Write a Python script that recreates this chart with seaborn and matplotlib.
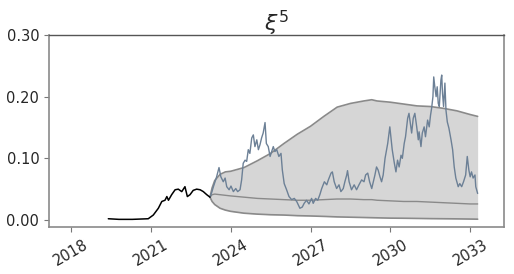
import numpy as np
import pandas as pd
import seaborn as sns
import matplotlib
matplotlib.use("Agg")
import matplotlib.pyplot as plt

# observed history (black)
hist_years = [2019.40, 2019.8, 2020.3, 2020.90, 2021.09, 2021.28, 2021.41, 2021.53, 2021.60, 2021.66,
              2021.78, 2021.91, 2022.03, 2022.16, 2022.28, 2022.37, 2022.47, 2022.59, 2022.72,
              2022.85, 2022.97, 2023.10, 2023.22]
hist_vals = [0.002, 0.001, 0.001, 0.002, 0.008, 0.019, 0.030, 0.032, 0.038, 0.032,
             0.041, 0.049, 0.050, 0.046, 0.054, 0.038, 0.041, 0.048, 0.050,
             0.049, 0.046, 0.041, 0.037]

# one simulated path (slate blue)
path_years = [2023.22, 2023.26, 2023.35, 2023.47, 2023.56, 2023.63, 2023.72, 2023.79, 2023.85, 2023.94,
              2024.01, 2024.10, 2024.19, 2024.26, 2024.35, 2024.41, 2024.47, 2024.54, 2024.60, 2024.66,
              2024.72, 2024.79, 2024.85, 2024.91, 2024.98, 2025.04, 2025.10, 2025.16, 2025.22, 2025.29,
              2025.34, 2025.41, 2025.48, 2025.54, 2025.60, 2025.66, 2025.73, 2025.81, 2025.89, 2025.94,
              2026.01, 2026.10, 2026.19, 2026.29, 2026.39, 2026.48, 2026.60, 2026.69, 2026.76, 2026.85,
              2026.94, 2027.04, 2027.10, 2027.19, 2027.27, 2027.35, 2027.42, 2027.52, 2027.61, 2027.67,
              2027.77, 2027.82, 2027.89, 2027.98, 2028.07, 2028.14, 2028.23, 2028.29, 2028.36, 2028.39,
              2028.45, 2028.54, 2028.64, 2028.73, 2028.82, 2028.92, 2029.01, 2029.07, 2029.15, 2029.22,
              2029.30, 2029.36, 2029.42, 2029.48, 2029.54, 2029.61, 2029.67, 2029.73, 2029.80, 2029.90,
              2029.98, 2030.02, 2030.07, 2030.15, 2030.21, 2030.27, 2030.33, 2030.40, 2030.45, 2030.52,
              2030.57, 2030.65, 2030.70, 2030.75, 2030.80, 2030.86, 2030.92, 2030.99, 2031.05, 2031.08,
              2031.15, 2031.20, 2031.27, 2031.32, 2031.40, 2031.46, 2031.51, 2031.55, 2031.60, 2031.63,
              2031.67, 2031.72, 2031.76, 2031.80, 2031.84, 2031.90, 2031.93, 2031.96, 2032.00, 2032.05,
              2032.09, 2032.14, 2032.20, 2032.28, 2032.34, 2032.40, 2032.46, 2032.55, 2032.61, 2032.68,
              2032.75, 2032.83, 2032.89, 2032.95, 2033.00, 2033.05, 2033.11, 2033.18, 2033.21, 2033.28]
path_vals = [0.037, 0.041, 0.054, 0.070, 0.085, 0.070, 0.062, 0.068, 0.054, 0.049,
             0.055, 0.046, 0.051, 0.046, 0.049, 0.065, 0.092, 0.097, 0.095, 0.114,
             0.108, 0.133, 0.138, 0.119, 0.130, 0.114, 0.122, 0.133, 0.141, 0.158,
             0.124, 0.119, 0.103, 0.111, 0.119, 0.111, 0.114, 0.103, 0.108, 0.081,
             0.059, 0.049, 0.038, 0.033, 0.035, 0.030, 0.019, 0.021, 0.027, 0.032,
             0.026, 0.035, 0.027, 0.035, 0.032, 0.041, 0.051, 0.062, 0.057, 0.065,
             0.076, 0.078, 0.062, 0.051, 0.057, 0.046, 0.051, 0.062, 0.073, 0.080,
             0.062, 0.049, 0.057, 0.049, 0.057, 0.065, 0.062, 0.073, 0.076, 0.062,
             0.051, 0.062, 0.073, 0.086, 0.081, 0.070, 0.062, 0.073, 0.100, 0.124,
             0.151, 0.135, 0.114, 0.092, 0.078, 0.097, 0.086, 0.105, 0.100, 0.124,
             0.135, 0.165, 0.173, 0.157, 0.141, 0.165, 0.173, 0.151, 0.130, 0.143,
             0.119, 0.141, 0.151, 0.135, 0.162, 0.151, 0.170, 0.181, 0.200, 0.232,
             0.216, 0.200, 0.216, 0.189, 0.184, 0.227, 0.235, 0.205, 0.184, 0.222,
             0.178, 0.159, 0.149, 0.130, 0.114, 0.086, 0.068, 0.054, 0.059, 0.054,
             0.062, 0.073, 0.103, 0.081, 0.070, 0.078, 0.068, 0.073, 0.054, 0.043]

# forecast band
band_years = [2023.22, 2023.3, 2023.4, 2023.6, 2023.8, 2024.0, 2024.5, 2025.0, 2025.5, 2026.0,
              2026.5, 2027.0, 2027.5, 2028.0, 2028.5, 2029.0, 2029.3, 2029.5, 2030.0, 2030.5,
              2031.0, 2031.5, 2032.0, 2032.5, 2033.0, 2033.28]
band_upper = [0.037, 0.052, 0.064, 0.074, 0.078, 0.079, 0.085, 0.096, 0.108, 0.124,
              0.139, 0.152, 0.168, 0.183, 0.189, 0.193, 0.195, 0.193, 0.191, 0.188,
              0.185, 0.184, 0.181, 0.177, 0.171, 0.168]
band_mid = [0.037, 0.041, 0.042, 0.041, 0.040, 0.039, 0.037, 0.035, 0.034, 0.033,
            0.032, 0.032, 0.033, 0.034, 0.034, 0.033, 0.033, 0.032, 0.031, 0.030,
            0.030, 0.029, 0.028, 0.027, 0.026, 0.026]
band_lower = [0.037, 0.030, 0.025, 0.019, 0.016, 0.014, 0.011, 0.0095, 0.0085, 0.008,
              0.007, 0.0065, 0.0058, 0.005, 0.0045, 0.004, 0.0037, 0.0035, 0.003, 0.0028,
              0.0025, 0.0022, 0.002, 0.0018, 0.0015, 0.0013]

year_ticks = [2018, 2021, 2024, 2027, 2030, 2033]
y_ticks = [0.0, 0.1, 0.2, 0.3]

sns.set_style("white")
plt.rcParams["font.family"] = ["DejaVu Sans"]

hist = pd.DataFrame({"year": hist_years, "value": hist_vals})
path = pd.DataFrame({"year": path_years, "value": path_vals})
band = pd.DataFrame({"year": band_years, "upper": band_upper, "mid": band_mid, "lower": band_lower})

fig = plt.figure(figsize=(5.14, 2.74), dpi=100)
ax = fig.add_axes([0.0953, 0.1715, 0.8852, 0.7008])

ax.fill_between(band["year"], band["lower"], band["upper"], color="#d6d6d6", linewidth=0)
sns.lineplot(data=band, x="year", y="upper", color="#8a8a8a", linewidth=1.2, ax=ax, estimator=None)
sns.lineplot(data=band, x="year", y="lower", color="#8a8a8a", linewidth=1.2, ax=ax, estimator=None)
sns.lineplot(data=band, x="year", y="mid", color="#8a8a8a", linewidth=1.0, ax=ax, estimator=None)
sns.lineplot(data=path, x="year", y="value", color="#6c8096", linewidth=1.0, ax=ax, estimator=None)
sns.lineplot(data=hist, x="year", y="value", color="black", linewidth=1.1, ax=ax, estimator=None)

ax.set_xlim(2017.17, 2034.27)
ax.set_ylim(-0.0114, 0.30)
ax.set_xticks(year_ticks)
ax.set_xticklabels([str(y) for y in year_ticks], rotation=30, ha="center")
ax.set_yticks(y_ticks)
ax.set_yticklabels([f"{v:.2f}" for v in y_ticks])
ax.set_xlabel("")
ax.set_ylabel("")
ax.set_title(r"$\xi^5$", fontsize=16, pad=3)
ax.tick_params(axis="both", labelsize=10.5, length=3.5, color="#777777", direction="out",
               bottom=True, left=True)
for s in ax.spines.values():
    s.set_color("#8a8a8a")
    s.set_linewidth(1.2)
ax.spines["top"].set_color("#555555")
ax.spines["top"].set_linewidth(1.0)

fig.savefig("out.png", dpi=100)
